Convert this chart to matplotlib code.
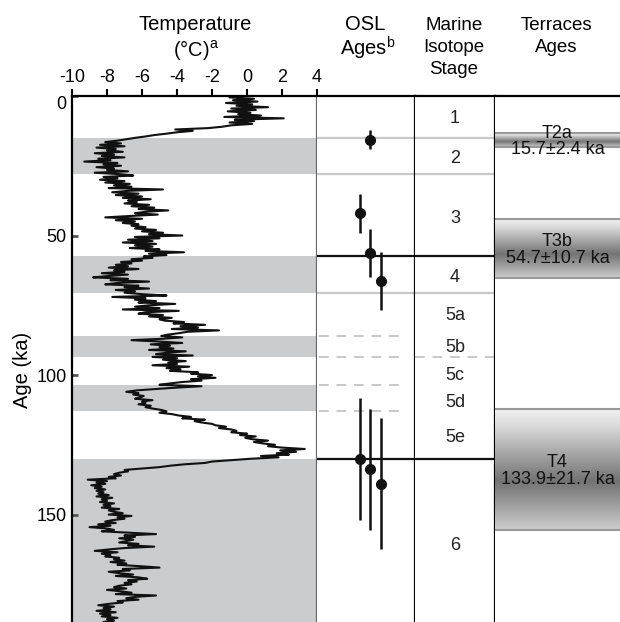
import numpy as np
import matplotlib
matplotlib.use("Agg")
import matplotlib.pyplot as plt

plt.rcParams['font.family'] = ['Liberation Sans', 'DejaVu Sans']
plt.rcParams['mathtext.fontset'] = 'custom'
plt.rcParams['mathtext.rm'] = 'Liberation Sans'

# temperature record (deg C), read every 0.5 ka from 0 to 189.5 ka
temp = [
    -0.2, -1.0, 0.4, -0.8, 0.6, -1.2, 0.3, -0.6, 1.2, -0.9,
    0.5, -1.1, 0.2, -0.5, 0.8, -1.3, 2.1, -0.7, 0.4, -1.0,
    0.3, -0.9, -1.4, -2.2, -4.1, -3.1, -4.0, -4.6, -5.3, -5.8,
    -6.4, -6.9, -7.4, -8.1, -7.2, -8.4, -7.0, -8.6, -7.5, -8.0,
    -7.1, -8.7, -7.6, -8.3, -7.0, -8.5, -7.8, -9.3, -7.4, -8.2,
    -7.2, -8.6, -7.6, -8.0, -6.8, -8.7, -7.3, -6.5, -8.2, -7.4,
    -8.4, -7.0, -8.1, -6.7, -7.6, -6.6, -7.9, -4.8, -6.8, -7.7,
    -6.2, -7.5, -6.0, -7.1, -5.5, -6.8, -6.3, -7.0, -5.6, -6.6,
    -5.3, -6.2, -4.5, -5.8, -6.4, -5.1, -6.7, -8.1, -6.0, -7.5,
    -6.4, -7.1, -6.2, -6.6, -5.8, -6.4, -5.2, -6.0, -4.8, -5.6,
    -3.7, -6.4, -5.0, -6.8, -5.4, -7.1, -5.2, -6.4, -5.4, -6.7,
    -5.0, -5.8, -3.6, -5.6, -4.6, -5.9, -5.4, -6.6, -6.0, -7.2,
    -6.6, -7.5, -6.8, -7.9, -6.2, -7.6, -7.0, -8.3, -6.8, -7.9,
    -8.8, -6.8, -7.8, -5.6, -7.4, -8.1, -6.2, -7.0, -5.6, -7.5,
    -6.4, -7.0, -6.0, -4.6, -7.7, -5.8, -6.4, -5.2, -6.2, -4.1,
    -5.6, -6.4, -5.0, -7.1, -3.9, -5.8, -6.2, -4.8, -5.6, -4.3,
    -5.0, -4.7, -3.6, -4.2, -2.4, -3.8, -2.8, -4.3, -1.6, -3.4,
    -3.9, -4.5, -4.9, -3.7, -4.8, -6.6, -5.0, -3.7, -5.5, -4.4,
    -5.0, -4.2, -5.6, -3.5, -4.6, -5.2, -3.1, -5.4, -4.0, -4.8,
    -3.5, -4.5, -4.0, -5.4, -3.3, -4.6, -3.8, -4.4, -2.8, -3.2,
    -2.0, -2.8, -1.8, -3.2, -2.6, -3.7, -4.4, -5.0, -2.6, -4.0,
    -5.2, -6.3, -6.9, -6.2, -6.5, -5.9, -6.1, -6.4, -5.4, -6.0,
    -5.8, -6.2, -5.5, -5.8, -5.4, -4.9, -4.6, -5.0, -4.3, -3.9,
    -3.2, -3.7, -2.4, -3.0, -2.6, -2.0, -1.8, -1.2, -1.6, -0.9,
    -0.6, -0.9, 0.0, -0.4, 0.5, -0.1, 0.3, 1.2, 0.4, 0.9,
    1.6, 1.2, 2.0, 3.3, 1.9, 2.8, 1.7, 2.4, 0.8, 1.8,
    0.2, -0.9, -2.0, -2.4, -3.6, -4.4, -5.0, -6.0, -7.0, -6.8,
    -7.3, -7.6, -7.2, -7.9, -7.5, -9.1, -8.0, -8.6, -8.1, -8.9,
    -8.3, -8.7, -8.1, -8.6, -8.2, -8.5, -7.9, -8.6, -7.7, -8.3,
    -8.0, -8.4, -7.6, -8.2, -7.8, -8.3, -7.3, -7.9, -7.6, -7.1,
    -7.9, -6.6, -7.4, -7.0, -7.7, -8.1, -7.5, -8.5, -7.8, -9.0,
    -8.0, -7.6, -8.3, -6.8, -5.2, -7.0, -6.4, -7.3, -6.5, -6.9,
    -7.3, -6.2, -6.8, -5.3, -7.0, -7.9, -8.7, -7.4, -8.3, -7.8,
    -8.1, -7.3, -7.6, -7.0, -7.8, -6.9, -7.4, -6.1, -5.0, -7.1,
    -6.7, -7.9, -7.3, -6.5, -7.5, -6.2, -5.7, -6.8, -6.3, -7.0,
    -6.6, -7.3, -7.6, -6.9, -8.0, -7.2, -6.6, -7.5, -5.2, -6.4,
    -6.9, -6.2, -7.4, -7.1, -7.9, -8.5, -7.6, -8.2, -7.8, -8.6,
    -7.5, -8.4, -7.8, -8.3, -7.4, -8.0, -7.6, -8.2, -7.3, -7.9,
]
temp_age = np.arange(len(temp)) * 0.5

# cold stages shaded in the temperature panel (ka)
cold_bands = [(15, 28), (57.5, 70.5), (86, 93.5), (103.5, 113), (130, 200)]

# OSL ages (ka) and errors, with column position
osl_age = [15.7, 42.0, 56.3, 66.3, 130.1, 133.7, 139.0]
osl_err = [3.4, 7.0, 8.6, 10.5, 22.0, 21.7, 23.5]
osl_x = [0.54, 0.44, 0.54, 0.65, 0.44, 0.54, 0.65]

# marine isotope stage labels
mis_labels = ['1', '2', '3', '4', '5a', '5b', '5c', '5d', '5e', '6']
mis_pos = [8, 22.5, 44, 65, 78.5, 90, 100, 110, 122.5, 161]

# stage boundaries: (age, style, spans MIS column too)
bounds = [(15, 'gray', True), (28, 'gray', True), (57.5, 'black', True),
          (70.5, 'gray', True), (86, 'dash', False), (93.5, 'dash', True),
          (103.5, 'dash', False), (113, 'dash', False), (130, 'black', True)]

# terraces
ter_names = ['T2a', 'T3b', 'T4']
ter_age = [15.7, 54.7, 133.9]
ter_err = [2.4, 10.7, 21.7]

YMAX = 188.5
fig = plt.figure(figsize=(6.2, 6.22), dpi=100)
H = 622.
W = 620.
top = 1 - 96 / H

axT = fig.add_axes([72 / W, 0, 245 / W, top])
axO = fig.add_axes([317 / W, 0, 98 / W, top], sharey=axT)
axM = fig.add_axes([415 / W, 0, 80 / W, top], sharey=axT)
axR = fig.add_axes([495 / W, 0, 125 / W, top], sharey=axT)

# ---- temperature panel
for lo, hi in cold_bands:
    axT.axhspan(lo, hi, color='#cbcccd', lw=0, zorder=0)
axT.plot(temp, temp_age, color='#111111', lw=1.5, zorder=2)
axT.set_xlim(-10, 4)
axT.set_ylim(YMAX, 0)
axT.xaxis.tick_top()
axT.set_xticks(range(-10, 5, 2))
axT.set_xticklabels([str(v) for v in range(-10, 5, 2)])
axT.tick_params(axis='x', direction='out', length=5, width=1.5, labelsize=13, pad=2)
axT.set_yticks([0, 50, 100, 150])
axT.tick_params(axis='y', direction='in', length=4, width=2, labelsize=13, pad=4,
                color='#555555')
axT.get_yticklabels()[0].set_va('top')
axT.set_ylabel('Age (ka)', fontsize=14.5)
axT.yaxis.set_label_coords(-0.163, 0.48)
axT.spines['bottom'].set_visible(False)
axT.spines['left'].set_linewidth(1.6)
axT.spines['top'].set_linewidth(1.6)
axT.spines['right'].set_color('#666666')
axT.spines['right'].set_linewidth(1.6)

# ---- OSL panel
axO.errorbar(osl_x, osl_age, yerr=osl_err, fmt='o', color='#111111', ms=7,
             elinewidth=1.8, capsize=0, zorder=3)
axO.set_xlim(0, 1)

# ---- MIS panel
for lab, pos in zip(mis_labels, mis_pos):
    axM.text(0.5, pos, lab, ha='center', va='center', fontsize=13, color='#222222')
axM.set_xlim(0, 1)

for age, style, both in bounds:
    axs = [axO, axM] if both else [axO]
    for a in axs:
        if style == 'gray':
            a.axhline(age, color='#c8c8c8', lw=1.6, zorder=1)
        elif style == 'black':
            a.axhline(age, color='#111111', lw=1.6, zorder=1)
        else:
            a.axhline(age, xmin=0.02 if a is axO else 0, xmax=0.85 if a is axO else 1,
                      color='#c8c8c8', lw=1.4, ls=(0, (5, 4)), zorder=1)

for a in [axO, axM, axR]:
    a.tick_params(left=False, labelleft=False, bottom=False, labelbottom=False)
    a.spines['bottom'].set_visible(False)
    a.spines['left'].set_visible(False)
    a.spines['top'].set_linewidth(1.6)
for a in [axO, axM]:
    a.spines['right'].set_linewidth(1.6)
axR.spines['right'].set_visible(False)

# ---- terraces panel
shade = np.interp(np.linspace(0, 1, 100), [0, 0.15, 0.6, 1.0], [0.95, 0.85, 0.45, 0.8])
for name, age, err in zip(ter_names, ter_age, ter_err):
    axR.imshow(shade[:, None], extent=[0, 1, age + err, age - err], cmap='gray',
               vmin=0, vmax=1, aspect='auto', interpolation='bicubic', zorder=1)
    axR.hlines([age - err, age + err], 0, 1, color='#999999', lw=1.5, zorder=2)
    axR.text(0.5, age + 0.5, name + '\n%.1f\u00b1%.1f ka' % (age, err), ha='center',
             va='center', fontsize=13, linespacing=0.95, color='#111111', zorder=3)
axR.set_xlim(0, 1)
axT.set_ylim(YMAX, 0)

# ---- column headers
fig.text(195 / W, 1 - 25 / H, 'Temperature', ha='center', va='center', fontsize=14.5)
fig.text(196 / W, 1 - 50 / H, '(\u00b0C)$^{\\mathrm{a}}$', ha='center', va='center',
         fontsize=14.5)
fig.text(365 / W, 1 - 25 / H, 'OSL', ha='center', va='center', fontsize=14.5)
fig.text(368 / W, 1 - 48 / H, 'Ages$^{\\mathrm{b}}$', ha='center', va='center',
         fontsize=14.5)
for txt, yy in zip(['Marine', 'Isotope', 'Stage'], [25, 48, 70]):
    fig.text(454 / W, 1 - yy / H, txt, ha='center', va='center', fontsize=13.5)
for txt, yy in zip(['Terraces', 'Ages'], [25, 48]):
    fig.text(556 / W, 1 - yy / H, txt, ha='center', va='center', fontsize=13.5)

fig.savefig('out.png', dpi=100)
